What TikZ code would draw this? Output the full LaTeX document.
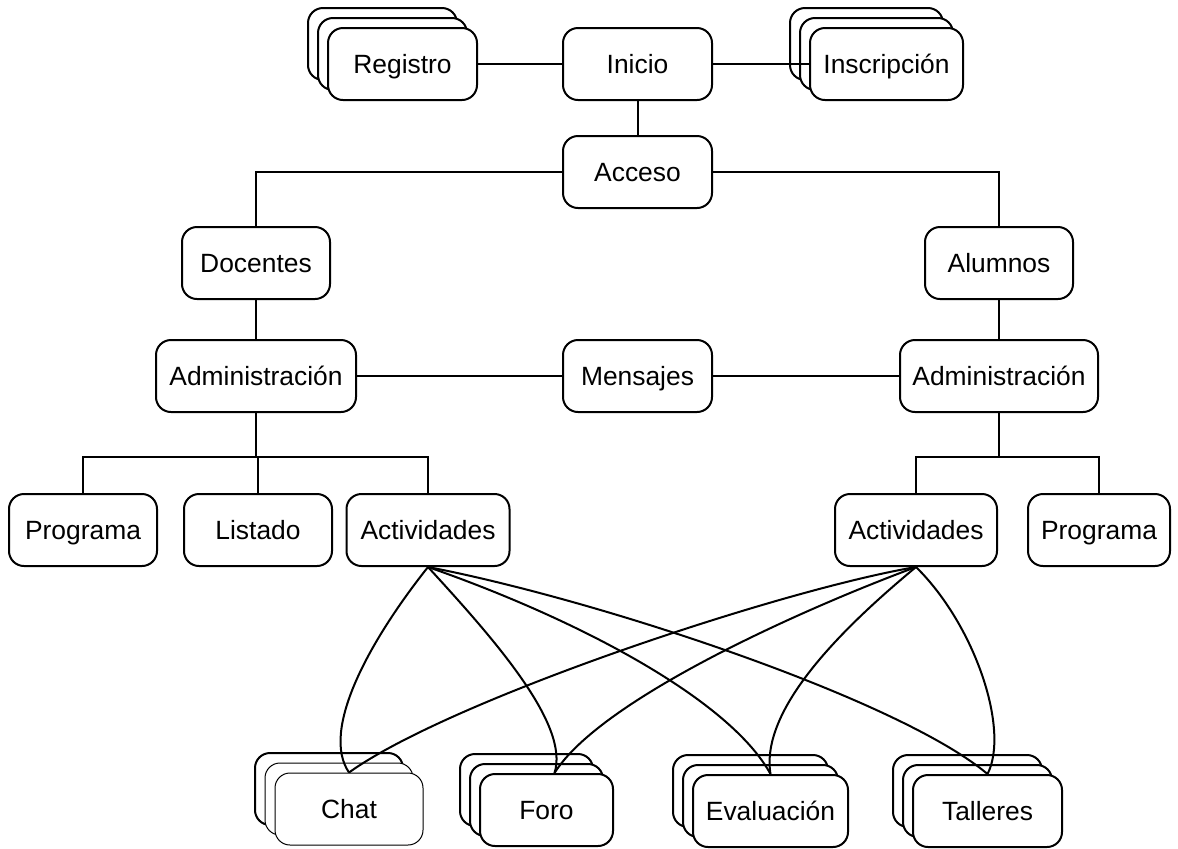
\documentclass[tikz,border=0pt]{standalone}
\usepackage{fontspec}
\setmainfont{Liberation Sans}
\begin{document}
\begin{tikzpicture}[x=0.5pt,y=-0.5pt,
 box/.style={draw,line width=1pt,rounded corners=7.5pt,fill=white,minimum height=36pt,inner sep=0pt,text height=10.5pt,text depth=1pt,font=\fontsize{13.2}{15}\selectfont},
 thinbox/.style={box,line width=0.5pt},
 link/.style={line width=1pt}]
\useasboundingbox (0,0) rectangle (1178,848);
% top row
\node[box,minimum width=74.5pt] (ini) at (637.5,64) {Inicio};
\node[box,minimum width=74.5pt] (reg3) at (382.5,44) {};
\node[box,minimum width=74.5pt] (reg2) at (392.5,54) {};
\node[box,minimum width=74.5pt] (reg) at (402.5,64) {Registro};
\node[box,minimum width=76.5pt] (ins3) at (866.5,44) {};
\node[box,minimum width=76.5pt] (ins2) at (876.5,54) {};
\node[box,minimum width=76.5pt] (ins) at (886.5,64) {Inscripción};
\node[box,minimum width=74.5pt] (acc) at (637.5,172) {Acceso};
\node[box,minimum width=74pt] (doc) at (256,263) {Docentes};
\node[box,minimum width=74pt] (alu) at (999,263) {Alumnos};
\node[box,minimum width=100pt] (admL) at (256,376) {Administración};
\node[box,minimum width=74.5pt] (men) at (637.5,376) {Mensajes};
\node[box,minimum width=99pt] (admR) at (999,376) {Administración};
\node[box,minimum width=74pt] (proL) at (83,530) {Programa};
\node[box,minimum width=74pt] (lis) at (258,530) {Listado};
\node[box,minimum width=81.5pt] (actL) at (428,530) {Actividades};
\node[box,minimum width=81pt] (actR) at (916,530) {Actividades};
\node[box,minimum width=71pt] (proR) at (1099,530) {Programa};
% bottom stacks
\node[box,minimum width=74pt] (chat3) at (329,789) {};
\node[thinbox,minimum width=74pt] (chat2) at (339,799) {};
\node[thinbox,minimum width=74pt] (chat) at (349,809) {Chat};
\node[box,minimum width=66.5pt] (foro3) at (526.5,790) {};
\node[box,minimum width=66.5pt] (foro2) at (536.5,800) {};
\node[box,minimum width=66.5pt] (foro) at (546.5,810) {Foro};
\node[box,minimum width=77.5pt] (eva3) at (750.5,791) {};
\node[box,minimum width=77.5pt] (eva2) at (760.5,801) {};
\node[box,minimum width=77.5pt] (eva) at (770.5,811) {Evaluación};
\node[box,minimum width=74.5pt] (tal3) at (967.5,791) {};
\node[box,minimum width=74.5pt] (tal2) at (977.5,801) {};
\node[box,minimum width=74.5pt] (tal) at (987.5,811) {Talleres};
% connectors
\draw[link] (reg.east) -- (ini.west);
\draw[link] (ini.east) -- (ins.west);
\draw[link] (ini.south) -- (acc.north);
\draw[link] (acc.west) -| (doc.north);
\draw[link] (acc.east) -| (alu.north);
\draw[link] (doc.south) -- (admL.north);
\draw[link] (alu.south) -- (admR.north);
\draw[link] (admL.east) -- (men.west);
\draw[link] (men.east) -- (admR.west);
\coordinate (tl) at (256,457);
\coordinate (tr) at (999,457);
\draw[link] (admL.south) -- (tl);
\draw[link] (proL.north) -- (proL.north |- tl) -- (actL.north |- tl) -- (actL.north);
\draw[link] (lis.north) -- (lis.north |- tl);
\draw[link] (admR.south) -- (tr);
\draw[link] (actR.north) -- (actR.north |- tr) -- (proR.north |- tr) -- (proR.north);
% curves
\draw[link] (actL.south) .. controls (370,640) and (320,730) .. (chat.north);
\draw[link] (actL.south) .. controls (495,640) and (570,725) .. ([xshift=4pt]foro.north);
\draw[link] (actL.south) .. controls (580,620) and (730,700) .. (eva.north);
\draw[link] (actL.south) .. controls (600,600) and (900,700) .. (tal.north);
\draw[link] (actR.south) .. controls (780,590) and (450,700) .. (chat.north);
\draw[link] (actR.south) .. controls (800,610) and (600,700) .. ([xshift=4pt]foro.north);
\draw[link] (actR.south) .. controls (840,630) and (760,710) .. (eva.north);
\draw[link] (actR.south) .. controls (975,625) and (1010,730) .. (tal.north);
\end{tikzpicture}
\end{document}
